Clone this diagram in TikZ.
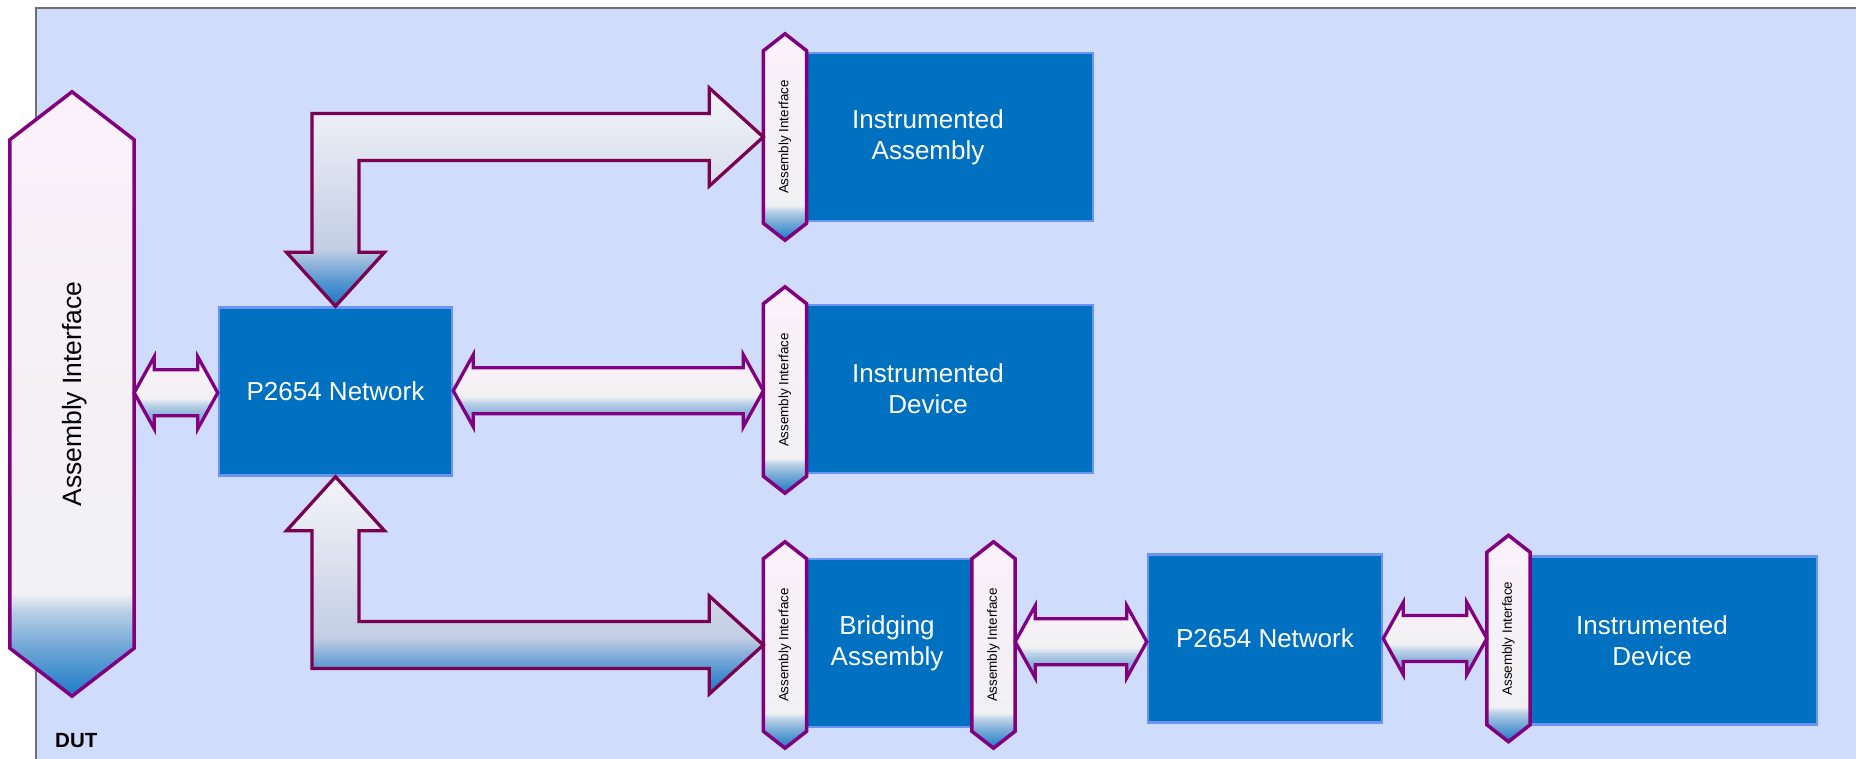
\documentclass[tikz,border=0pt]{standalone}
\usepackage{fontspec}
\setmainfont{Liberation Sans}
\usetikzlibrary{calc}

\definecolor{dutfill}{HTML}{CFDCFC}
\definecolor{dutframe}{HTML}{707070}
\definecolor{netblue}{HTML}{0070C0}
\definecolor{netrim}{HTML}{6C95F2}
\definecolor{hexpurple}{HTML}{800080}
\definecolor{flowrim}{HTML}{7A0050}
\definecolor{aiblue}{HTML}{1A7AC6}
\definecolor{aimid}{HTML}{6FA6D6}
\definecolor{aipale}{HTML}{B8CFE6}
\definecolor{aigrey}{HTML}{F1F1F3}
\definecolor{aigreyb}{HTML}{F5F1F6}
\definecolor{aipink}{HTML}{FCF1FB}
\definecolor{flowblue}{HTML}{1C76C3}
\definecolor{flowmid}{HTML}{4D92D0}
\definecolor{flowpale}{HTML}{93B6DC}
\definecolor{flowgrey}{HTML}{C3CEE4}
\definecolor{flowtop}{HTML}{F4F5FA}
\definecolor{dblblue}{HTML}{7AA9D6}
\definecolor{dblmid}{HTML}{94B8DC}
\definecolor{dblpale}{HTML}{BFD3E8}
\definecolor{dblgrey}{HTML}{F1F1F3}
\definecolor{dbltop}{HTML}{FBF1FA}

\pgfdeclareverticalshading{aishade}{100bp}{color(0bp)=(aiblue); color(25bp)=(aiblue); color(29bp)=(aimid); color(32bp)=(aipale); color(33.5bp)=(aigrey); color(55bp)=(aigreyb); color(75bp)=(aipink); color(100bp)=(aipink)}
\pgfdeclareverticalshading{flowshade}{100bp}{color(0bp)=(flowblue); color(25bp)=(flowblue); color(30bp)=(flowmid); color(35bp)=(flowpale); color(38bp)=(flowgrey); color(75bp)=(flowtop); color(100bp)=(flowtop)}
\pgfdeclareverticalshading{dblshade}{100bp}{color(0bp)=(dblblue); color(25bp)=(dblblue); color(36bp)=(dblmid); color(42bp)=(dblpale); color(46bp)=(dblgrey); color(75bp)=(dbltop); color(100bp)=(dbltop)}

\newcommand{\aihex}[2]{%
  \draw[hexface] (#1.south west) -- (#1.north west) -- ($(#1.north)+(0,-#2)$)
    -- (#1.north east) -- (#1.south east) -- ($(#1.south)+(0,#2)$) -- cycle;}

\newcommand{\dblarrow}[2]{%
  \path[dbl] let \p1=(#1), \p2=(#2), \p3=($(#1)!.5!(#2)$) in
    (\x1,\y3) -- (\x1+20pt,\y3+36pt) -- (\x1+20pt,\y3+23pt) -- (\x2-20pt,\y3+23pt)
    -- (\x2-20pt,\y3+36pt) -- (\x2,\y3) -- (\x2-20pt,\y3-36pt) -- (\x2-20pt,\y3-23pt)
    -- (\x1+20pt,\y3-23pt) -- (\x1+20pt,\y3-36pt) -- cycle;}

\newcommand{\elbow}[3]{%
  \path[flow] let \p1=(#1), \p2=(#2) in
    (\x1,\y1) -- ({\x1-54pt},{\y1+49pt}) -- ({\x1-54pt},{\y1+23.5pt})
    -- ({\x2-#3*23.5pt},{\y1+23.5pt}) -- ({\x2-#3*23.5pt},{\y2+#3*54pt})
    -- ({\x2-#3*49pt},{\y2+#3*54pt}) -- (\x2,\y2) -- ({\x2+#3*49pt},{\y2+#3*54pt})
    -- ({\x2+#3*23.5pt},{\y2+#3*54pt}) -- ({\x2+#3*23.5pt},{\y1-23.5pt})
    -- ({\x1-54pt},{\y1-23.5pt}) -- ({\x1-54pt},{\y1-49pt}) -- cycle;}

\begin{document}
\begin{tikzpicture}[x=1pt,y=-1pt,
    netbox/.style={draw=netrim,line width=2.5pt,fill=netblue,text=white,align=center,
      minimum height=168pt,inner sep=0pt,font=\fontsize{26}{31}\selectfont},
    aispot/.style={minimum width=43pt,minimum height=172pt,inner sep=0pt},
    ailabel/.style={rotate=90,inner sep=0pt,font=\fontsize{13.4}{16}\selectfont},
    hexface/.style={draw=hexpurple,line width=3.5pt,shade,shading=aishade},
    flow/.style={draw=flowrim,line width=3.3pt,shade,shading=flowshade},
    dbl/.style={draw=hexpurple,line width=3.3pt,shade,shading=dblshade}]

  \useasboundingbox (0,0) rectangle (1856,759);
  \draw[draw=dutframe,line width=2pt,fill=dutfill] (36,8) rectangle (1890,790);

  \node[netbox,minimum width=233pt] (net1) at (335.5,391.5) {P2654 Network};
  \node[netbox,minimum width=330pt] (asm) at (928,137) {Instrumented\\Assembly};
  \node[netbox,minimum width=330pt] (dev1) at (928,389) {Instrumented\\Device};
  \node[netbox,minimum width=248pt] (bridge) at (887,643) {Bridging\\Assembly};
  \node[netbox,minimum width=234pt] (net2) at (1265,638.5) {P2654 Network};
  \node[netbox,minimum width=330pt] (dev2) at (1652,640.5) {Instrumented\\Device};

  \node[aispot,minimum width=124pt,minimum height=508pt] (dutai) at (72,394) {};
  \aihex{dutai}{48}
  \node[ailabel,font=\fontsize{26.5}{30}\selectfont] at ([xshift=3pt]dutai.center) {Assembly Interface};

  \foreach \ai/\xpos/\ypos in {aiA/785/137,aiB/785/390,aiC/785/645,aiD/993.5/645,aiE/1508.5/638.5}{
    \node[aispot] (\ai) at (\xpos,\ypos) {};
    \aihex{\ai}{17}
    \node[ailabel] at (\ai) {Assembly Interface};
  }

  \elbow{aiA.west}{net1.north}{1}
  \elbow{aiC.west}{net1.south}{(-1)}
  \dblarrow{dutai.east}{net1.west}
  \dblarrow{net1.east}{aiB.west}
  \dblarrow{aiD.east}{net2.west}
  \dblarrow{net2.east}{aiE.west}

  \node[anchor=base west,inner sep=0pt,font=\bfseries\fontsize{20.5}{24}\selectfont] (dut) at (55,747) {DUT};
\end{tikzpicture}
\end{document}
